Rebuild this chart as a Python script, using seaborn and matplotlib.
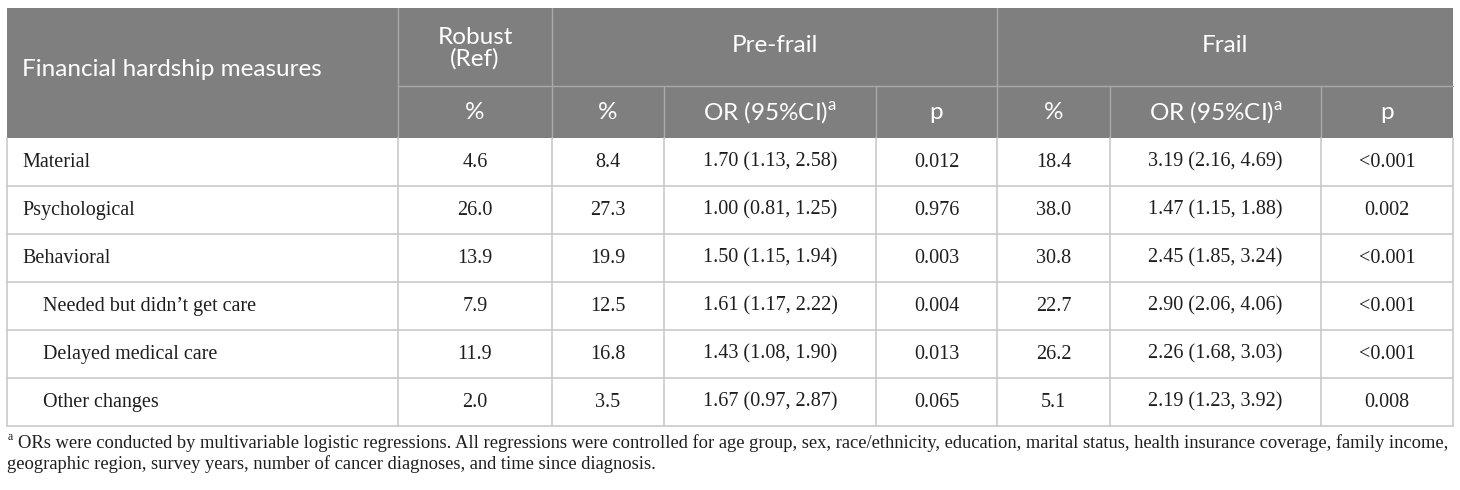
import numpy as np
import pandas as pd
import matplotlib.pyplot as plt
import seaborn as sns

# Данные таблицы
measures = ["Material", "Psychological", "Behavioral",
            "Needed but didn\u2019t get care", "Delayed medical care", "Other changes"]
indent = [False, False, False, True, True, True]
robust_pct = ["4.6", "26.0", "13.9", "7.9", "11.9", "2.0"]
pre_pct = ["8.4", "27.3", "19.9", "12.5", "16.8", "3.5"]
pre_or = ["1.70 (1.13, 2.58)", "1.00 (0.81, 1.25)", "1.50 (1.15, 1.94)",
          "1.61 (1.17, 2.22)", "1.43 (1.08, 1.90)", "1.67 (0.97, 2.87)"]
pre_p = ["0.012", "0.976", "0.003", "0.004", "0.013", "0.065"]
frail_pct = ["18.4", "38.0", "30.8", "22.7", "26.2", "5.1"]
frail_or = ["3.19 (2.16, 4.69)", "1.47 (1.15, 1.88)", "2.45 (1.85, 3.24)",
            "2.90 (2.06, 4.06)", "2.26 (1.68, 3.03)", "2.19 (1.23, 3.92)"]
frail_p = ["<0.001", "0.002", "<0.001", "<0.001", "<0.001", "0.008"]

groups = ["Robust\n(Ref)", "Pre-frail", "Frail"]
sub_headers = ["%", "%", "OR (95%CI)$^{\\mathregular{a}}$", "p",
               "%", "OR (95%CI)$^{\\mathregular{a}}$", "p"]
first_header = "Financial hardship measures"
footnote_1 = ("ORs were conducted by multivariable logistic regressions. All regressions were controlled for age group, "
              "sex, race/ethnicity, education, marital status, health insurance coverage, family income,")
footnote_2 = "geographic region, survey years, number of cancer diagnoses, and time since diagnosis."

df = pd.DataFrame({
    "measure": measures, "robust": robust_pct, "pre_pct": pre_pct, "pre_or": pre_or,
    "pre_p": pre_p, "frail_pct": frail_pct, "frail_or": frail_or, "frail_p": frail_p,
})

sns.set_theme(style="white")
plt.rcParams['font.family'] = ['Lato', 'DejaVu Sans']

# Геометрия таблицы в пикселях
xs = [7, 398, 552, 664, 876, 997, 1110, 1321, 1453]
top, mid, head_bot, row_h = 8, 86, 138, 48
n = len(df)
bottom = head_bot + row_h * n

fig = plt.figure(figsize=(14.6, 4.9), dpi=100)
ax = fig.add_axes([0, 0, 1, 1])
ax.set_xlim(0, 1460)
ax.set_ylim(490, 0)
ax.axis("off")

head_bg = "#7f7f7f"
head_line = "#a9a9a9"
body_line = "#c9c9c9"
body_txt = "#1e1e1e"
hfs = 17.5

# Шапка
ax.add_patch(plt.Rectangle((xs[0], top), xs[-1] - xs[0], head_bot - top, color=head_bg, lw=0))
for x in [xs[1], xs[2], xs[5]]:
    ax.plot([x, x], [top, head_bot], color=head_line, lw=1)
for x in [xs[3], xs[4], xs[6], xs[7]]:
    ax.plot([x, x], [mid, head_bot], color=head_line, lw=1)
ax.plot([xs[1], xs[-1]], [mid, mid], color=head_line, lw=1)

ax.text(xs[0] + 15, 69, first_header, color="white", fontsize=hfs, va="center", ha="left")
ax.text((xs[1] + xs[2]) / 2, 48, groups[0], color="white", fontsize=hfs, va="center",
        ha="center", linespacing=1.0)
ax.text((xs[2] + xs[5]) / 2, 46, groups[1], color="white", fontsize=hfs, va="center", ha="center")
ax.text((xs[5] + xs[8]) / 2, 46, groups[2], color="white", fontsize=hfs, va="center", ha="center")
for i, lab in enumerate(sub_headers):
    ax.text((xs[i + 1] + xs[i + 2]) / 2, 112, lab, color="white", fontsize=hfs,
            va="center", ha="center")

# Тело таблицы
serif = ['Liberation Serif', 'DejaVu Serif']
bfs = 14.5
cols = ["robust", "pre_pct", "pre_or", "pre_p", "frail_pct", "frail_or", "frail_p"]
for r, row in df.iterrows():
    yc = head_bot + row_h * r + row_h / 2
    x0 = xs[0] + (36 if indent[r] else 15)
    ax.text(x0, yc, row["measure"], family=serif, fontsize=bfs, color=body_txt,
            va="center", ha="left")
    for j, c in enumerate(cols):
        ax.text((xs[j + 1] + xs[j + 2]) / 2, yc, row[c], family=serif, fontsize=bfs,
                color=body_txt, va="center", ha="center")
    ax.plot([xs[0], xs[-1]], [head_bot + row_h * (r + 1)] * 2, color=body_line, lw=1.2)

for x in xs:
    ax.plot([x, x], [head_bot, bottom], color=body_line, lw=1.2)

# Примечание
ffs = 13.3
ax.text(xs[0] + 1, 437, "a", family=serif, fontsize=8.5, color=body_txt, va="center", ha="left")
ax.text(xs[0] + 11, 443, footnote_1, family=serif, fontsize=ffs, color=body_txt,
        va="center", ha="left")
ax.text(xs[0], 464, footnote_2, family=serif, fontsize=ffs, color=body_txt,
        va="center", ha="left")

fig.savefig("out.png", dpi=100)
